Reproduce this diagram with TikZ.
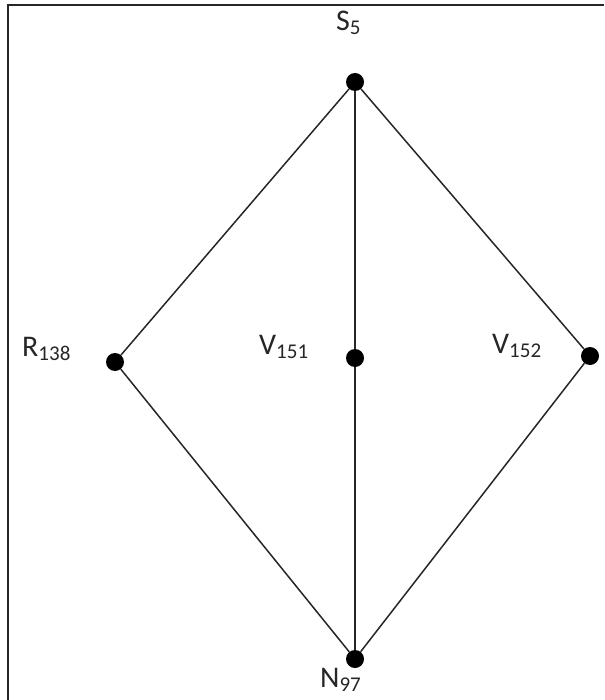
\documentclass[tikz,border=0pt]{standalone}
\usepackage{fontspec}
\setmainfont{Carlito}
\newcommand{\lab}[2]{#1\raisebox{-4pt}{\fontsize{21}{21}\selectfont #2}}
\begin{document}
\begin{tikzpicture}[x=1pt,y=-1pt,
  dot/.style={circle,fill=black,inner sep=0pt,minimum size=18pt},
  lbl/.style={anchor=base west,inner sep=0pt,font=\fontsize{30}{30}\selectfont,text=black!85},
  edge/.style={draw=black!85,line width=1.5pt}]
\useasboundingbox (0,0) rectangle (604,700);
\draw[line width=1.6pt,black!85] (8,700) -- (8,5) -- (604,5);
\node[dot] (s5) at (355,82) {};
\node[dot] (r138) at (115,362) {};
\node[dot] (v151) at (355,358) {};
\node[dot] (v152) at (590,356) {};
\node[dot] (n97) at (355,659) {};
\draw[edge] (s5) -- (r138);
\draw[edge] (s5) -- (v151);
\draw[edge] (v151) -- (n97);
\draw[edge] (s5) -- (v152);
\draw[edge] (r138) -- (n97);
\draw[edge] (v152) -- (n97);
\node[lbl] (ls5) at (336,31) {\lab{S}{5}};
\node[lbl] (lr138) at (22,356) {\lab{R}{138}};
\node[lbl] (lv151) at (259,354) {\lab{V}{151}};
\node[lbl] (lv152) at (492,353) {\lab{V}{152}};
\node[lbl] (ln97) at (320,687) {\lab{N}{97}};
\end{tikzpicture}
\end{document}
